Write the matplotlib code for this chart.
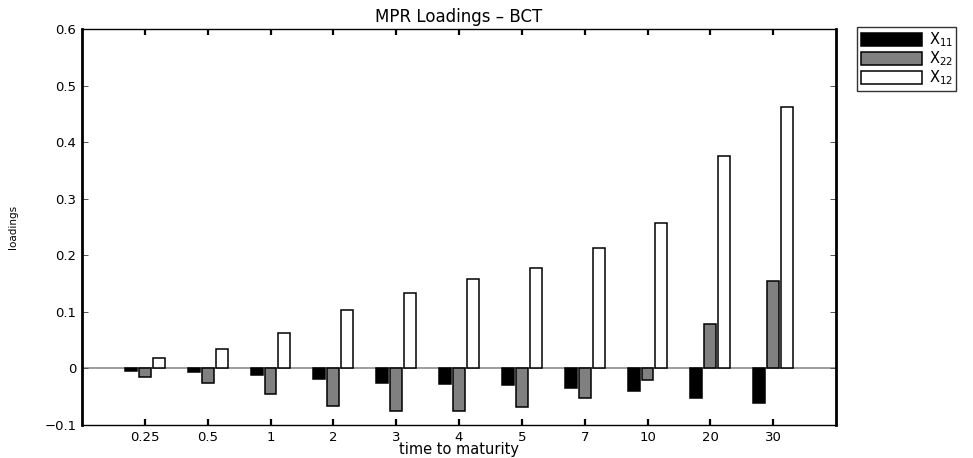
import matplotlib
matplotlib.use("Agg")
import matplotlib.pyplot as plt
import numpy as np

# the reference text is wide and flat, DejaVu is the widest sans available
plt.rcParams['font.family'] = ['DejaVu Sans']
plt.rcParams['mathtext.fontset'] = 'dejavusans'

maturities = ["0.25", "0.5", "1", "2", "3", "4", "5", "7", "10", "20", "30"]
x11 = [-0.005, -0.007, -0.012, -0.019, -0.025, -0.028, -0.030, -0.034, -0.039, -0.052, -0.061]
x22 = [-0.015, -0.026, -0.045, -0.066, -0.075, -0.075, -0.069, -0.052, -0.021, 0.079, 0.154]
x12 = [0.018, 0.035, 0.062, 0.103, 0.134, 0.158, 0.178, 0.213, 0.257, 0.375, 0.463]

fig = plt.figure(figsize=(9.73, 4.58), dpi=100)
ax = fig.add_axes([0.0843, 0.072, 0.7749, 0.8646])

pos = np.arange(len(maturities))
w = 0.19
off = 0.222
ax.axhline(0, color='#8c8c8c', lw=1.2, zorder=1)
ax.bar(pos - off, x11, w, color='black', edgecolor='black', lw=1.1,
       label='$\\mathregular{X_{11}}$', zorder=2)
ax.bar(pos, x22, w, color='#808080', edgecolor='black', lw=1.1,
       label='$\\mathregular{X_{22}}$', zorder=2)
ax.bar(pos + off, x12, w, color='white', edgecolor='black', lw=1.1,
       label='$\\mathregular{X_{12}}$', zorder=2)

ax.set_xlim(-1, 11)
ax.set_ylim(-0.1, 0.6)
ax.set_xticks(pos)
ax.set_xticklabels(maturities)
ax.set_yticks(np.arange(-0.1, 0.61, 0.1))
ax.set_yticklabels(['\u22120.1', '0', '0.1', '0.2', '0.3', '0.4', '0.5', '0.6'])
ax.tick_params(direction='in', length=4, top=True, right=True,
               labelsize=9.5, pad=4, colors='black')
ax.tick_params(axis='x', width=1.6)
ax.tick_params(axis='y', width=0.7, colors='#555555', labelcolor='black')
for side in ['left', 'right']:
    ax.spines[side].set_linewidth(2.0)
for side in ['top', 'bottom']:
    ax.spines[side].set_linewidth(1.0)

ax.set_title('MPR Loadings \u2013 BCT', fontsize=12, pad=5)
ax.set_xlabel('time to maturity', fontsize=10.5, labelpad=-1)
ax.set_ylabel('loadings', fontsize=7.5, labelpad=19)

leg = ax.legend(loc='upper left', bbox_to_anchor=(1.028, 1.005), fontsize=10.5,
                frameon=True, fancybox=False, edgecolor='black',
                handlelength=4.2, handleheight=1.0, handletextpad=0.45,
                labelspacing=0.02, borderpad=0.25, borderaxespad=0)
leg.get_frame().set_linewidth(1.0)

fig.savefig('out.png', dpi=100)
